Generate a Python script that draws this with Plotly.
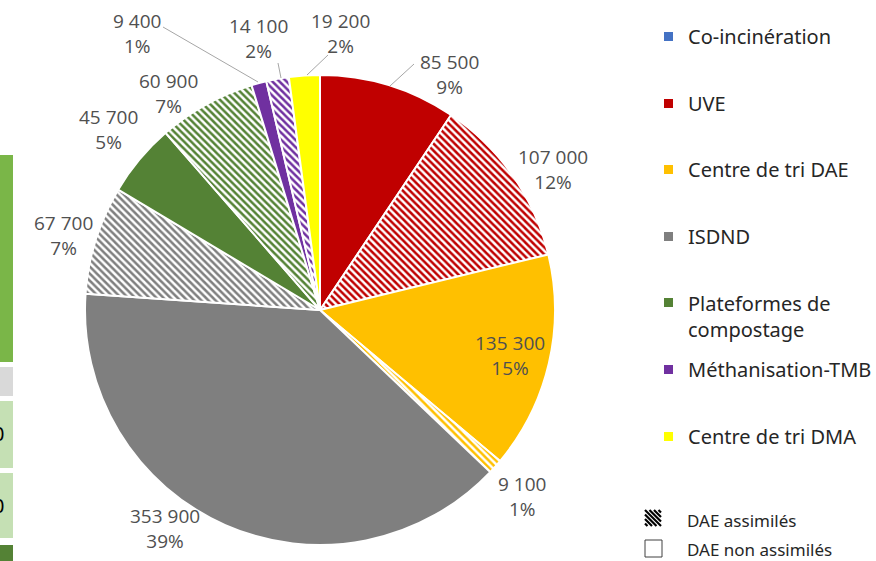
import plotly.graph_objects as go

# ---------------- data ----------------
slice_names = ["UVE", "UVE (DAE assimilés)", "Centre de tri DAE", "Centre de tri DAE (DAE assimilés)",
               "ISDND", "ISDND (DAE assimilés)", "Plateformes de compostage",
               "Plateformes de compostage (DAE assimilés)", "Méthanisation-TMB",
               "Méthanisation-TMB (DAE assimilés)", "Centre de tri DMA"]
slice_values = [85500, 107000, 135300, 9100, 353900, 67700, 45700, 60900, 9400, 14100, 19200]
slice_colors = ["#C00000", "#C00000", "#FFC000", "#FFC000", "#7F7F7F", "#7F7F7F",
                "#548235", "#548235", "#7030A0", "#7030A0", "#FFFF00"]
slice_hatched = [False, True, False, True, False, True, False, True, False, True, False]

legend_labels = ["Co-incinération", "UVE", "Centre de tri DAE", "ISDND",
                 "Plateformes de<br>compostage", "Méthanisation-TMB", "Centre de tri DMA"]
legend_colors = ["#4472C4", "#C00000", "#FFC000", "#7F7F7F", "#548235", "#7030A0", "#FFFF00"]

W, H = 876, 561
def px(x): return x / W
def py(y): return 1 - y / H

total = sum(slice_values)
def fmt(v):
    return f"{v:,}".replace(",", " ") + "<br>" + f"{round(v / total * 100)}%"

fig = go.Figure()

fill = ["white" if h else c for c, h in zip(slice_colors, slice_hatched)]
shapes_pat = ["\\" if h else "" for h in slice_hatched]

cx, cy, r = 320, 310, 235
fig.add_trace(go.Pie(
    labels=slice_names, values=slice_values, sort=False, direction="clockwise",
    rotation=0, textinfo="none", hoverinfo="label+value+percent", showlegend=False,
    marker=dict(colors=fill, line=dict(color="white", width=2),
                pattern=dict(shape=shapes_pat, fgcolor=slice_colors, fillmode="overlay",
                             fgopacity=1, size=5, solidity=0.5)),
    domain=dict(x=[px(cx - r), px(cx + r)], y=[py(cy + r), py(cy - r)]),
))

label_font = dict(family="Open Sans, Noto Sans, sans-serif", size=19, color="#505050")
label_pos = [(449, 75), (553, 170), (510, 356), (522, 496), (165, 528), (63, 235),
             (108, 130), (168, 93), (137, 34), (258, 38), (340, 34)]
annotations = []
for v, (x, y) in zip(slice_values, label_pos):
    annotations.append(dict(x=px(x), y=py(y), xref="paper", yref="paper", text=fmt(v),
                            showarrow=False, font=label_font, xanchor="center", yanchor="middle"))

shapes = []
leader = [((390, 86), (414, 64)), ((163, 27), (258, 82)), ((278, 63), (281, 78)), ((328, 55), (307, 75))]
for (x0, y0), (x1, y1) in leader:
    shapes.append(dict(type="line", xref="paper", yref="paper", x0=px(x0), y0=py(y0),
                       x1=px(x1), y1=py(y1), line=dict(color="#A6A6A6", width=1)))

# legend
leg_font = dict(family="Noto Sans, sans-serif", size=20, color="#262626")
leg_y = [36, 103, 169, 236, 316, 369, 436]
sq_y = [36, 103, 169, 236, 302, 369, 436]
for lab, col, ty, sy in zip(legend_labels, legend_colors, leg_y, sq_y):
    shapes.append(dict(type="rect", xref="paper", yref="paper", x0=px(664), x1=px(673),
                       y0=py(sy + 5), y1=py(sy - 4), fillcolor=col, line=dict(width=0)))
    annotations.append(dict(x=px(686), y=py(ty), xref="paper", yref="paper", text=lab,
                            showarrow=False, font=leg_font, xanchor="left", yanchor="middle",
                            align="left"))

# hatch legend icon
hx0, hy0, hs = 645, 510, 16
step = 4.5
k = 0.0
while k <= hs:
    shapes.append(dict(type="line", xref="paper", yref="paper", x0=px(hx0 + k), y0=py(hy0),
                       x1=px(hx0 + hs), y1=py(hy0 + hs - k), line=dict(color="black", width=2.2)))
    if k:
        shapes.append(dict(type="line", xref="paper", yref="paper", x0=px(hx0), y0=py(hy0 + k),
                           x1=px(hx0 + hs - k), y1=py(hy0 + hs), line=dict(color="black", width=2.2)))
    k += step
shapes.append(dict(type="rect", xref="paper", yref="paper", x0=px(645), x1=px(662),
                   y0=py(557), y1=py(540), line=dict(color="#404040", width=1), fillcolor="white"))
small_font = dict(family="Noto Sans, sans-serif", size=17, color="#262626")
annotations.append(dict(x=px(685), y=py(520), xref="paper", yref="paper", text="DAE assimilés",
                        showarrow=False, font=small_font, xanchor="left", yanchor="middle"))
annotations.append(dict(x=px(685), y=py(549), xref="paper", yref="paper", text="DAE non assimilés",
                        showarrow=False, font=small_font, xanchor="left", yanchor="middle"))

# cut-off table fragment on the left edge
frag = [(155, 362, "#7AB648"), (367, 396, "#D9D9D9"), (401, 468, "#C5E0B4"),
        (473, 538, "#C5E0B4"), (545, 561, "#548235")]
for y0, y1, c in frag:
    shapes.append(dict(type="rect", xref="paper", yref="paper", x0=0, x1=px(13),
                       y0=py(y1), y1=py(y0), fillcolor=c, line=dict(width=0), layer="below"))
for y in (434, 505):
    annotations.append(dict(x=px(6), y=py(y), xref="paper", yref="paper", text="0",
                            showarrow=False, font=dict(family="Noto Sans", size=20, color="black"),
                            xanchor="right", yanchor="middle"))

fig.update_layout(width=W, height=H, margin=dict(l=0, r=0, t=0, b=0),
                  paper_bgcolor="white", plot_bgcolor="white",
                  shapes=shapes, annotations=annotations)
fig.write_html("out.html", config={"displayModeBar": False},
               post_script="document.body.style.margin='0';document.body.style.overflow='hidden';")
